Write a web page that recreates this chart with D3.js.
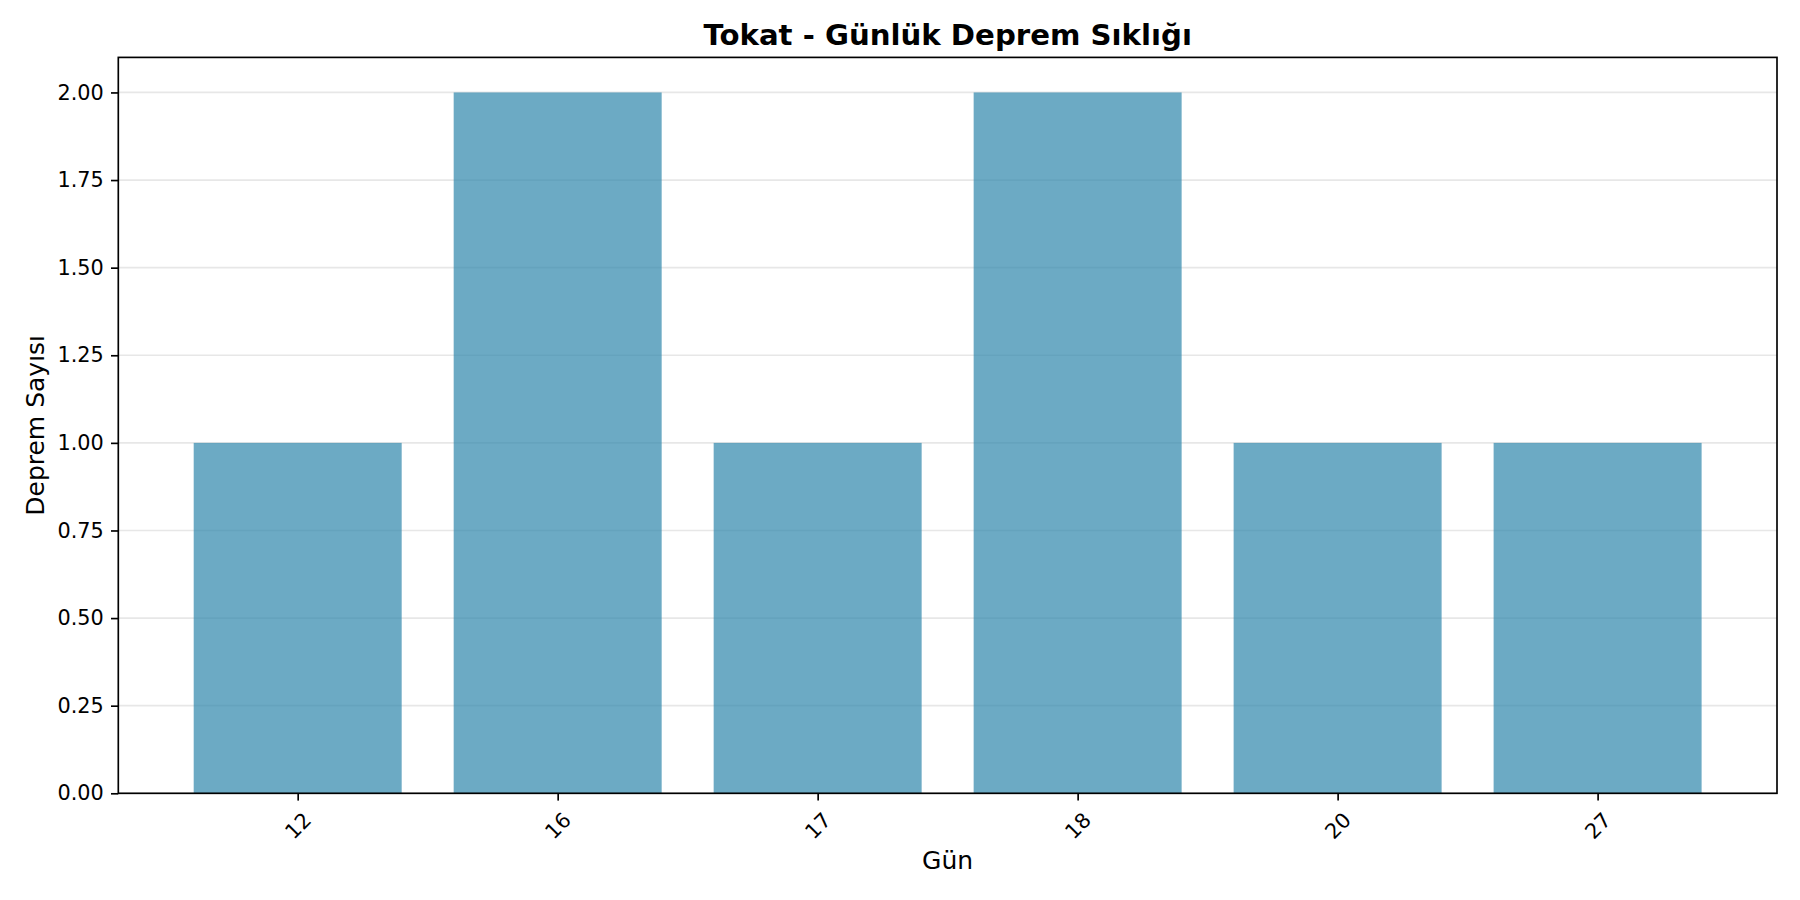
<!DOCTYPE html>
<html>
<head>
<meta charset="utf-8">
<script src="https://cdn.jsdelivr.net/npm/d3@7"></script>
<style>
  body { margin: 0; background: #fff; }
  svg { display: block; font-family: "DejaVu Sans", sans-serif; }
</style>
</head>
<body>
<div id="chart"></div>
<script>
// chart data
const days = ["12", "16", "17", "18", "20", "27"];
const counts = [1, 2, 1, 2, 1, 1];
const yTicks = [0, 0.25, 0.5, 0.75, 1.0, 1.25, 1.5, 1.75, 2.0];
const titleText = "Tokat - Günlük Deprem Sıklığı";
const xLabel = "Gün";
const yLabel = "Deprem Sayısı";

const W = 1800, H = 900;
const margin = { top: 57.4, right: 23, bottom: 106.7, left: 118.3 };
const width = W - margin.left - margin.right;
const height = H - margin.top - margin.bottom;

const svg = d3.select("#chart")
  .append("svg")
  .attr("width", W)
  .attr("height", H);

const g = svg.append("g")
  .attr("transform", "translate(" + margin.left + "," + margin.top + ")");

// bars at 0..n-1 with width 0.8, 5% margin like matplotlib
const n = days.length;
const x = d3.scaleLinear()
  .domain([-0.4 - 0.05 * (n - 0.2), n - 1 + 0.4 + 0.05 * (n - 0.2)])
  .range([0, width]);
const y = d3.scaleLinear().domain([0, 2.1]).range([height, 0]);

// grid
g.append("g")
  .selectAll("line")
  .data(yTicks)
  .enter()
  .append("line")
  .attr("x1", 0)
  .attr("x2", width)
  .attr("y1", (d) => y(d))
  .attr("y2", (d) => y(d))
  .attr("stroke", "#b0b0b0")
  .attr("stroke-opacity", 0.3)
  .attr("stroke-width", 1.67);

// bars
g.selectAll(".bar")
  .data(counts)
  .enter()
  .append("rect")
  .attr("class", "bar")
  .attr("x", (d, i) => x(i - 0.4))
  .attr("width", (d, i) => x(i + 0.4) - x(i - 0.4))
  .attr("y", (d) => y(d))
  .attr("height", (d) => y(0) - y(d))
  .attr("fill", "#2E86AB")
  .attr("fill-opacity", 0.7);

// y axis
const yAxis = d3.axisLeft(y)
  .tickValues(yTicks)
  .tickFormat(d3.format(".2f"))
  .tickSize(7.3)
  .tickPadding(7.3);
const ya = g.append("g").call(yAxis);
ya.select(".domain").remove();
ya.selectAll("line").attr("stroke", "#000").attr("stroke-width", 1.67);
ya.selectAll("text")
  .attr("font-size", "20.8px")
  .attr("fill", "#000")
  .attr("font-family", "DejaVu Sans");

// x axis
const xAxis = d3.axisBottom(x)
  .tickValues(d3.range(n))
  .tickFormat((i) => days[i])
  .tickSize(7.3)
  .tickPadding(0);
const xa = g.append("g")
  .attr("transform", "translate(0," + height + ")")
  .call(xAxis);
xa.select(".domain").remove();
xa.selectAll("line").attr("stroke", "#000").attr("stroke-width", 1.67);
xa.selectAll("text")
  .attr("font-size", "20.8px")
  .attr("fill", "#000")
  .attr("font-family", "DejaVu Sans")
  .attr("text-anchor", "middle")
  .attr("dominant-baseline", "central")
  .attr("dy", null)
  .each(function () {
    const t = d3.select(this);
    const w = this.getComputedTextLength();
    const h = 20.8 * 1.17;
    const cy = 14.6 + (w + h) / (2 * Math.SQRT2);
    t.attr("y", cy).attr("transform", "rotate(-45,0," + cy + ")");
  });

// frame
g.append("rect")
  .attr("width", width)
  .attr("height", height)
  .attr("fill", "none")
  .attr("stroke", "#000")
  .attr("stroke-width", 1.67);

// title and labels
svg.append("text")
  .attr("x", margin.left + width / 2)
  .attr("y", 45)
  .attr("text-anchor", "middle")
  .attr("font-size", "29.2px")
  .attr("font-weight", "bold")
  .text(titleText);

svg.append("text")
  .attr("x", margin.left + width / 2)
  .attr("y", 869)
  .attr("text-anchor", "middle")
  .attr("font-size", "25px")
  .text(xLabel);

svg.append("text")
  .attr("transform", "translate(43.5," + (margin.top + height / 2) + ") rotate(-90)")
  .attr("text-anchor", "middle")
  .attr("font-size", "25px")
  .text(yLabel);
</script>
</body>
</html>
